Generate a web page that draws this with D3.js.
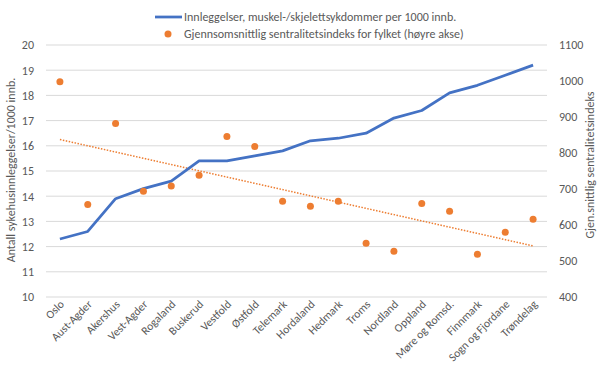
<!DOCTYPE html>
<html>
<head>
<meta charset="utf-8">
<script src="https://cdn.jsdelivr.net/npm/d3@7"></script>
<style>
  body { margin: 0; background: #fff; }
  text { font-family: Carlito, Lato, "Open Sans", sans-serif; fill: #595959; }
</style>
</head>
<body>
<script>
var width = 605
var height = 375

var fylker = ['Oslo', 'Aust-Agder', 'Akershus', 'Vest-Agder', 'Rogaland', 'Buskerud', 'Vestfold', 'Østfold',
  'Telemark', 'Hordaland', 'Hedmark', 'Troms', 'Nordland', 'Oppland', 'Møre og Romsd.', 'Finnmark',
  'Sogn og Fjordane', 'Trøndelag']
var innleggelser = [12.3, 12.6, 13.9, 14.3, 14.6, 15.4, 15.4, 15.6, 15.8, 16.2, 16.3, 16.5, 17.1, 17.4, 18.1, 18.4, 18.8, 19.2]
var sentralitet = [998, 657, 882, 694, 708, 738, 846, 818, 666, 652, 666, 549, 527, 660, 638, 519, 580, 616]
var leftTicks = [10, 11, 12, 13, 14, 15, 16, 17, 18, 19, 20]
var rightTicks = [400, 500, 600, 700, 800, 900, 1000, 1100]

var lineLabel = 'Innleggelser, muskel-/skjelettsykdommer per 1000 innb.'
var dotLabel = 'Gjennsomsnittlig sentralitetsindeks for fylket (høyre akse)'

var svg = d3.select('body').append('svg')
    .attr('width', width)
    .attr('height', height)

var x = d3.scaleBand()
    .domain(fylker)
    .range([46, 547])

var yL = d3.scaleLinear()
    .domain([10, 20])
    .range([297, 45])

var yR = d3.scaleLinear()
    .domain([400, 1100])
    .range([297, 45])

function cx (d) { return x(d) + x.bandwidth() / 2 }

// gridlines
svg.append('g').selectAll('line')
    .data(leftTicks)
  .enter().append('line')
    .attr('x1', 46)
    .attr('x2', 547)
    .attr('y1', function (d) { return yL(d) })
    .attr('y2', function (d) { return yL(d) })
    .style('stroke', '#d9d9d9')
    .style('stroke-width', 1)

// left axis
var axL = svg.append('g')
    .attr('transform', 'translate(40,0)')
    .call(d3.axisLeft(yL).tickValues(leftTicks).tickSize(0).tickPadding(6))
axL.select('.domain').remove()
axL.selectAll('text').style('font-size', '12px').style('fill', '#595959')
  .style('font-family', 'Carlito, Lato, "Open Sans", sans-serif')

// right axis
var axR = svg.append('g')
    .attr('transform', 'translate(553,0)')
    .call(d3.axisRight(yR).tickValues(rightTicks).tickFormat(d3.format('d')).tickSize(0).tickPadding(6))
axR.select('.domain').remove()
axR.selectAll('text').style('font-size', '12px').style('fill', '#595959')
  .style('font-family', 'Carlito, Lato, "Open Sans", sans-serif')

// x labels
svg.append('g').selectAll('text')
    .data(fylker)
  .enter().append('text')
    .attr('transform', function (d) { return 'translate(' + (cx(d) + 5) + ',305) rotate(-45)' })
    .attr('text-anchor', 'end')
    .style('font-size', '11.5px')
    .text(function (d) { return d })

// axis titles
svg.append('text')
    .attr('transform', 'translate(15,170) rotate(-90)')
    .attr('text-anchor', 'middle')
    .style('font-size', '12px')
    .text('Antall sykehusinnleggelser/1000 innb.')

svg.append('text')
    .attr('transform', 'translate(594,165) rotate(-90)')
    .attr('text-anchor', 'middle')
    .style('font-size', '12px')
    .text('Gjen.snittlig sentralitetsindeks')

// trend line (least squares on the dot series)
var n = sentralitet.length
var mx = d3.mean(d3.range(n))
var my = d3.mean(sentralitet)
var sxy = d3.sum(d3.range(n), function (i) { return (i - mx) * (sentralitet[i] - my) })
var sxx = d3.sum(d3.range(n), function (i) { return (i - mx) * (i - mx) })
var slope = sxy / sxx
var icpt = my - slope * mx

svg.append('line')
    .attr('x1', cx(fylker[0]))
    .attr('x2', cx(fylker[n - 1]))
    .attr('y1', yR(icpt))
    .attr('y2', yR(icpt + slope * (n - 1)))
    .style('stroke', '#ed7d31')
    .style('stroke-width', 1.5)
    .style('stroke-dasharray', '1.5,1.5')

// blue line
var line = d3.line()
    .x(function (d, i) { return cx(fylker[i]) })
    .y(function (d) { return yL(d) })

svg.append('path')
    .datum(innleggelser)
    .attr('d', line)
    .style('fill', 'none')
    .style('stroke', '#4472c4')
    .style('stroke-width', 2.75)
    .style('stroke-linejoin', 'round')

// dots
svg.append('g').selectAll('circle')
    .data(sentralitet)
  .enter().append('circle')
    .attr('cx', function (d, i) { return cx(fylker[i]) })
    .attr('cy', function (d) { return yR(d) })
    .attr('r', 3.5)
    .style('fill', '#ed7d31')

// legend
var lg = svg.append('g')
lg.append('line')
    .attr('x1', 155).attr('x2', 182)
    .attr('y1', 17).attr('y2', 17)
    .style('stroke', '#4472c4')
    .style('stroke-width', 2.75)
lg.append('text')
    .attr('x', 184).attr('y', 21)
    .style('font-size', '12px')
    .text(lineLabel)
lg.append('circle')
    .attr('cx', 168).attr('cy', 34)
    .attr('r', 3.5)
    .style('fill', '#ed7d31')
lg.append('text')
    .attr('x', 184).attr('y', 38)
    .style('font-size', '12px')
    .text(dotLabel)
</script>
</body>
</html>
